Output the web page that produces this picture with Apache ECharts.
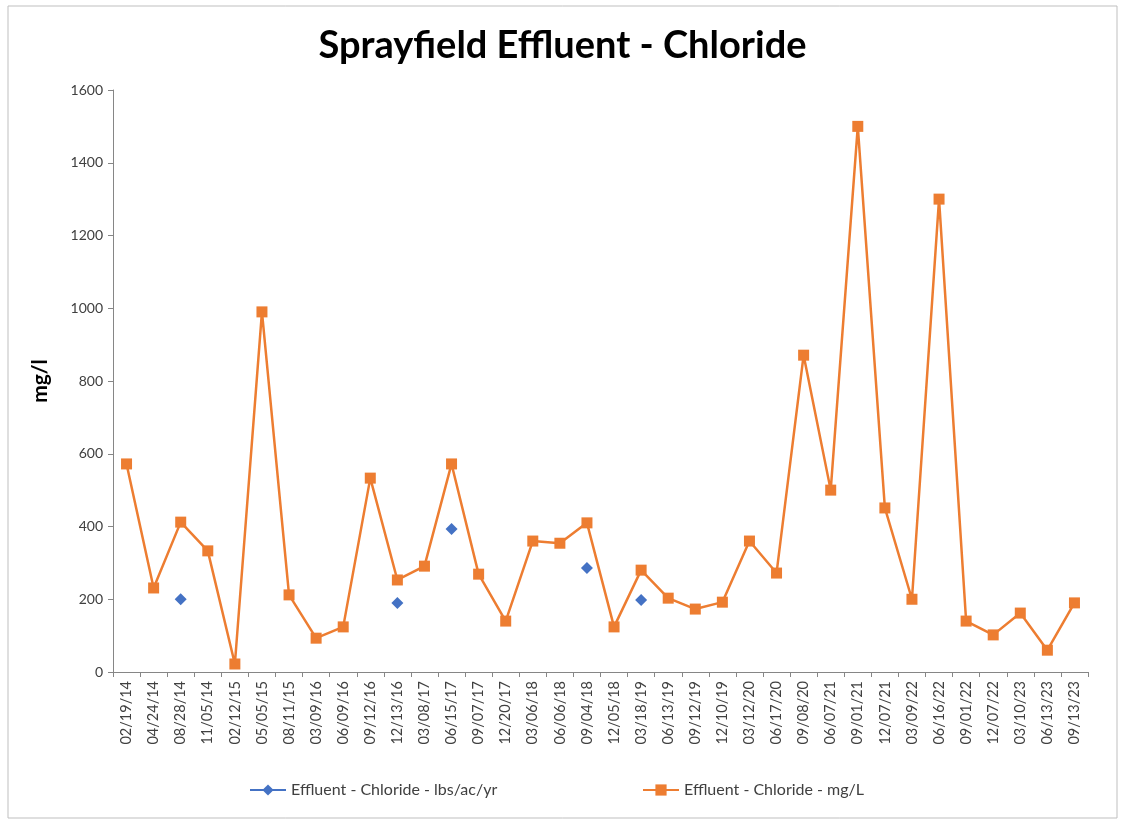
<!DOCTYPE html>
<html>
<head>
<meta charset="utf-8">
<script src="https://cdn.jsdelivr.net/npm/echarts@6/dist/echarts.min.js"></script>
<style>html,body{margin:0;padding:0;background:#fff}#c{width:1125px;height:824px}</style>
</head>
<body>
<div id="c"></div>
<script>
const categories = ["02/19/14","04/24/14","08/28/14","11/05/14","02/12/15","05/05/15","08/11/15","03/09/16","06/09/16","09/12/16","12/13/16","03/08/17","06/15/17","09/07/17","12/20/17","03/06/18","06/06/18","09/04/18","12/05/18","03/18/19","06/13/19","09/12/19","12/10/19","03/12/20","06/17/20","09/08/20","06/07/21","09/01/21","12/07/21","03/09/22","06/16/22","09/01/22","12/07/22","03/10/23","06/13/23","09/13/23"];
const mgL = [572,231,412,333,22,990,212,93,124,533,253,291,572,269,140,360,354,410,124,280,203,173,192,360,272,871,500,1500,451,200,1300,140,102,162,60,190];
const lbsAcYr = [null,null,200,null,null,null,null,null,null,null,190,null,393,null,null,null,null,286,null,198,null,null,null,null,null,null,null,null,null,null,null,null,null,null,null,null];
const yTicks = {min:0, max:1600, interval:200};

const font = 'Lato, "Open Sans", sans-serif';
const chart = echarts.init(document.getElementById('c'));
chart.setOption({
  animation:false,
  backgroundColor:'#fff',
  graphic:[{type:'rect',shape:{x:8,y:6,width:1109,height:812},style:{fill:null,stroke:'#bfbfbf',lineWidth:1},silent:true}],
  title:{text:'Sprayfield Effluent - Chloride',left:'center',top:22,textStyle:{fontFamily:font,fontSize:38,fontWeight:'bold',color:'#000'}},
  legend:[
    {data:['Effluent - Chloride - lbs/ac/yr'],left:244,top:777,itemWidth:36,itemHeight:14,itemGap:6,textStyle:{fontFamily:font,fontSize:16,color:'#404040'}},
    {data:['Effluent - Chloride - mg/L'],left:637,top:777,itemWidth:36,itemHeight:14,itemGap:6,textStyle:{fontFamily:font,fontSize:16,color:'#404040'}}
  ],
  grid:{left:113,right:37,top:90,bottom:152,containLabel:false},
  xAxis:{type:'category',data:categories,boundaryGap:true,
    axisLine:{lineStyle:{color:'#868686'}},
    axisTick:{show:true,alignWithLabel:false,length:5,lineStyle:{color:'#868686'}},
    axisLabel:{rotate:90,interval:0,color:'#404040',fontFamily:font,fontSize:14.5,margin:9}},
  yAxis:{type:'value',min:yTicks.min,max:yTicks.max,interval:yTicks.interval,
    name:'mg/l',nameLocation:'middle',nameGap:62,nameRotate:90,
    nameTextStyle:{fontFamily:font,fontSize:21,fontWeight:'bold',color:'#000'},
    axisLine:{show:true,lineStyle:{color:'#868686'}},
    axisTick:{show:true,length:5,lineStyle:{color:'#868686'}},
    splitLine:{show:false},
    axisLabel:{color:'#404040',fontFamily:font,fontSize:14,margin:10,formatter:function(v){return String(v);}}},
  series:[
    {name:'Effluent - Chloride - lbs/ac/yr',type:'line',data:lbsAcYr,connectNulls:false,
     symbol:'diamond',symbolSize:12,itemStyle:{color:'#4472C4'},lineStyle:{color:'#4472C4',width:2.5}},
    {name:'Effluent - Chloride - mg/L',type:'line',data:mgL,
     symbol:'rect',symbolSize:11,itemStyle:{color:'#ED7D31'},lineStyle:{color:'#ED7D31',width:2.5}}
  ]
});
</script>
</body>
</html>
